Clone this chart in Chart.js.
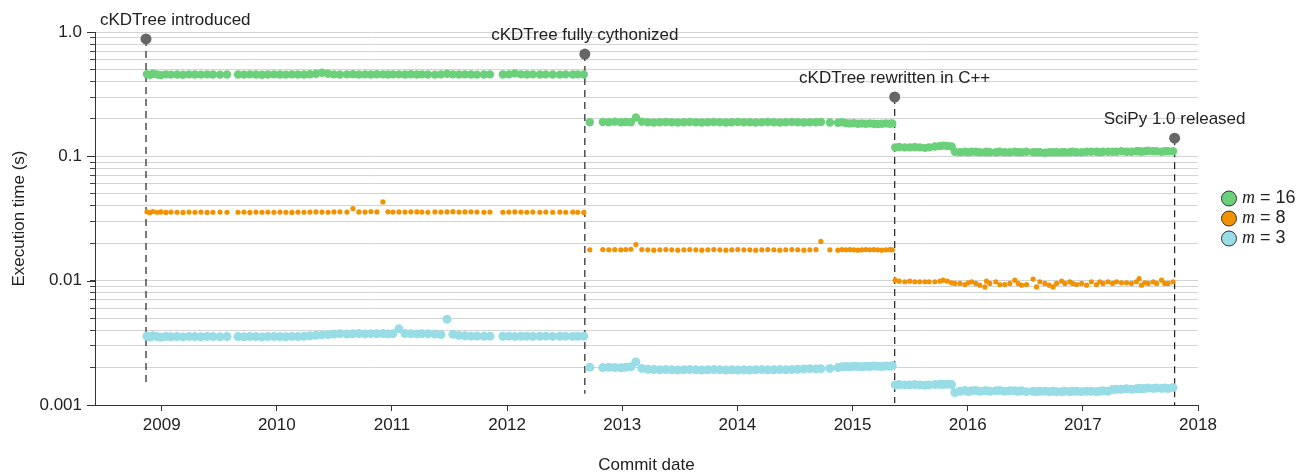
<!DOCTYPE html>
<html lang="en">
<head>
    <meta charset="UTF-8">
    <title>cKDTree benchmark history</title>
    <style>
        body { margin: 0; background: #fff; }
        #chart { display: block; }
    </style>
</head>
<body>
    <canvas id="chart" width="1298" height="473"></canvas>
    <script src="https://cdn.jsdelivr.net/npm/chart.js"></script>
    <script>
        // commit dates as decimal years
        const commitDates = [
            // before cythonization
            2008.872, 2008.898, 2008.924, 2008.960, 2008.994, 2009.037, 2009.080, 2009.133, 2009.185, 2009.237,
            2009.289, 2009.341, 2009.394, 2009.445, 2009.507, 2009.567, 2009.663, 2009.715, 2009.766, 2009.819,
            2009.871, 2009.922, 2009.975, 2010.027, 2010.079, 2010.131, 2010.183, 2010.236, 2010.288, 2010.340,
            2010.392, 2010.445, 2010.496, 2010.548, 2010.609, 2010.661, 2010.713, 2010.766, 2010.817, 2010.869,
            2010.921, 2010.965, 2011.008, 2011.060, 2011.113, 2011.164, 2011.216, 2011.260, 2011.312, 2011.373,
            2011.425, 2011.478, 2011.529, 2011.582, 2011.634, 2011.686, 2011.738, 2011.799, 2011.851, 2011.963,
            2012.015, 2012.067, 2012.120, 2012.171, 2012.223, 2012.284, 2012.336, 2012.396, 2012.458, 2012.509,
            2012.570, 2012.613, 2012.666,
            // cython
            2012.718, 2012.831, 2012.883, 2012.935, 2012.988, 2013.031, 2013.075, 2013.118, 2013.170, 2013.222,
            2013.274, 2013.326, 2013.379, 2013.430, 2013.482, 2013.535, 2013.586, 2013.639, 2013.691, 2013.743,
            2013.795, 2013.847, 2013.900, 2013.951, 2014.003, 2014.056, 2014.108, 2014.159, 2014.212, 2014.264,
            2014.317, 2014.368, 2014.420, 2014.473, 2014.524, 2014.577, 2014.629, 2014.682, 2014.725, 2014.803,
            2014.873, 2014.908, 2014.942, 2014.977, 2015.012, 2015.047, 2015.080, 2015.115, 2015.150, 2015.185,
            2015.219, 2015.254, 2015.289, 2015.324, 2015.345,
            // C++
            2015.370, 2015.405, 2015.454, 2015.497, 2015.541, 2015.584, 2015.628, 2015.665, 2015.715, 2015.759,
            2015.787, 2015.823, 2015.860, 2015.889, 2015.933, 2015.976, 2016.005, 2016.034, 2016.070, 2016.104,
            2016.149, 2016.163, 2016.192, 2016.244, 2016.279, 2016.322, 2016.366, 2016.409, 2016.438, 2016.468,
            2016.511, 2016.568, 2016.598, 2016.627, 2016.670, 2016.708, 2016.742, 2016.772, 2016.816, 2016.844,
            2016.887, 2016.911, 2016.946, 2016.989, 2017.032, 2017.074, 2017.118, 2017.147, 2017.175, 2017.218,
            2017.257, 2017.292, 2017.335, 2017.379, 2017.422, 2017.465, 2017.489, 2017.509, 2017.538, 2017.567,
            2017.610, 2017.640, 2017.683, 2017.711, 2017.740, 2017.783
        ];

        const m16Times = [
            0.458, 0.452, 0.462, 0.455, 0.450, 0.456, 0.454, 0.455, 0.453, 0.456,
            0.455, 0.454, 0.456, 0.455, 0.454, 0.455, 0.455, 0.454, 0.456, 0.455,
            0.453, 0.455, 0.456, 0.455, 0.454, 0.456, 0.455, 0.455, 0.457, 0.462,
            0.470, 0.462, 0.456, 0.455, 0.456, 0.458, 0.455, 0.456, 0.455, 0.457,
            0.456, 0.455, 0.456, 0.456, 0.455, 0.457, 0.455, 0.456, 0.455, 0.454,
            0.456, 0.462, 0.456, 0.455, 0.456, 0.455, 0.454, 0.455, 0.456, 0.455,
            0.456, 0.465, 0.456, 0.455, 0.456, 0.455, 0.456, 0.455, 0.454, 0.456,
            0.455, 0.456, 0.455,
            0.188, 0.189, 0.188, 0.190, 0.188, 0.189, 0.188, 0.205, 0.190, 0.188,
            0.187, 0.188, 0.189, 0.188, 0.187, 0.188, 0.189, 0.188, 0.187, 0.188,
            0.189, 0.188, 0.187, 0.188, 0.189, 0.188, 0.188, 0.187, 0.188, 0.189,
            0.188, 0.187, 0.188, 0.189, 0.188, 0.187, 0.188, 0.188, 0.189, 0.187,
            0.186, 0.188, 0.185, 0.184, 0.185, 0.183, 0.184, 0.183, 0.184, 0.183,
            0.182, 0.183, 0.184, 0.183, 0.184,
            0.118, 0.119, 0.118, 0.118, 0.119, 0.118, 0.117, 0.118, 0.120, 0.121,
            0.122, 0.121, 0.120, 0.109, 0.108, 0.109, 0.108, 0.109, 0.109, 0.108,
            0.108, 0.109, 0.108, 0.108, 0.109, 0.108, 0.108, 0.109, 0.108, 0.108,
            0.109, 0.108, 0.108, 0.108, 0.107, 0.108, 0.108, 0.108, 0.108, 0.108,
            0.108, 0.109, 0.108, 0.108, 0.109, 0.109, 0.109, 0.108, 0.109, 0.109,
            0.109, 0.109, 0.110, 0.109, 0.109, 0.110, 0.110, 0.109, 0.110, 0.111,
            0.110, 0.110, 0.109, 0.110, 0.110, 0.110
        ];

        const m8Times = [
            0.0358, 0.0352, 0.0360, 0.0355, 0.0357, 0.0354, 0.0356, 0.0355, 0.0354, 0.0356,
            0.0355, 0.0356, 0.0354, 0.0355, 0.0356, 0.0355, 0.0355, 0.0356, 0.0354, 0.0356,
            0.0355, 0.0356, 0.0355, 0.0356, 0.0355, 0.0354, 0.0356, 0.0355, 0.0356, 0.0357,
            0.0356, 0.0355, 0.0357, 0.0358, 0.0356, 0.0380, 0.0357, 0.0356, 0.0360, 0.0357,
            0.0430, 0.0358, 0.0356, 0.0357, 0.0356, 0.0358, 0.0357, 0.0356, 0.0355, 0.0357,
            0.0356, 0.0357, 0.0359, 0.0356, 0.0357, 0.0358, 0.0356, 0.0355, 0.0356, 0.0355,
            0.0356, 0.0357, 0.0356, 0.0355, 0.0356, 0.0355, 0.0356, 0.0355, 0.0356, 0.0355,
            0.0356, 0.0355, 0.0354,
            0.0177, 0.0178, 0.0177, 0.0178, 0.0177, 0.0178, 0.0179, 0.0195, 0.0178, 0.0177,
            0.0176, 0.0177, 0.0178, 0.0177, 0.0176, 0.0177, 0.0178, 0.0177, 0.0176, 0.0177,
            0.0178, 0.0177, 0.0176, 0.0177, 0.0178, 0.0177, 0.0177, 0.0176, 0.0177, 0.0178,
            0.0177, 0.0176, 0.0177, 0.0178, 0.0177, 0.0176, 0.0177, 0.0178, 0.0207, 0.0177,
            0.0176, 0.0178, 0.0177, 0.0178, 0.0177, 0.0176, 0.0177, 0.0178, 0.0177, 0.0178,
            0.0177, 0.0176, 0.0177, 0.0178, 0.0177,
            0.0101, 0.0099, 0.0098, 0.0099, 0.0098, 0.0098, 0.0098, 0.0098, 0.0098, 0.0099,
            0.0101, 0.0099, 0.0096, 0.0095, 0.0095, 0.0093, 0.0096, 0.0098, 0.0095, 0.0092,
            0.0089, 0.0099, 0.0095, 0.0098, 0.0093, 0.0093, 0.0095, 0.0101, 0.0095, 0.0092,
            0.0093, 0.0103, 0.0089, 0.0098, 0.0095, 0.0092, 0.0089, 0.0095, 0.0099, 0.0095,
            0.0098, 0.0095, 0.0093, 0.0095, 0.0092, 0.0098, 0.0093, 0.0098, 0.0095, 0.0098,
            0.0095, 0.0098, 0.0096, 0.0096, 0.0095, 0.0098, 0.0104, 0.0092, 0.0096, 0.0095,
            0.0098, 0.0095, 0.0101, 0.0095, 0.0095, 0.0098
        ];

        const m3Times = [
            0.00358, 0.00352, 0.00360, 0.00355, 0.00350, 0.00356, 0.00354, 0.00355, 0.00353, 0.00356,
            0.00355, 0.00354, 0.00356, 0.00355, 0.00354, 0.00355, 0.00355, 0.00354, 0.00356, 0.00355,
            0.00353, 0.00355, 0.00356, 0.00355, 0.00354, 0.00356, 0.00355, 0.00357, 0.00360, 0.00364,
            0.00366, 0.00368, 0.00372, 0.00375, 0.00372, 0.00374, 0.00376, 0.00373, 0.00375, 0.00374,
            0.00376, 0.00373, 0.00375, 0.00410, 0.00376, 0.00374, 0.00373, 0.00375, 0.00374, 0.00372,
            0.00368, 0.00490, 0.00370, 0.00363, 0.00360, 0.00358, 0.00359, 0.00357, 0.00358, 0.00357,
            0.00358, 0.00356, 0.00357, 0.00358, 0.00356, 0.00357, 0.00358, 0.00356, 0.00357, 0.00358,
            0.00356, 0.00357, 0.00358,
            0.00201, 0.00200, 0.00201, 0.00200, 0.00199, 0.00201, 0.00203, 0.00222, 0.00197, 0.00194,
            0.00193, 0.00192, 0.00193, 0.00192, 0.00191, 0.00192, 0.00193, 0.00192, 0.00191, 0.00192,
            0.00193, 0.00192, 0.00191, 0.00192, 0.00191, 0.00192, 0.00191, 0.00192, 0.00193, 0.00192,
            0.00192, 0.00193, 0.00192, 0.00193, 0.00194, 0.00195, 0.00196, 0.00195, 0.00196, 0.00197,
            0.00200, 0.00203, 0.00204, 0.00203, 0.00205, 0.00204, 0.00203, 0.00205, 0.00204, 0.00206,
            0.00205, 0.00204, 0.00206, 0.00205, 0.00207,
            0.00145, 0.00146, 0.00145, 0.00145, 0.00146, 0.00145, 0.00144, 0.00145, 0.00146, 0.00147,
            0.00146, 0.00147, 0.00146, 0.00126, 0.00129, 0.00131, 0.00128, 0.00130, 0.00131, 0.00129,
            0.00130, 0.00130, 0.00129, 0.00130, 0.00131, 0.00129, 0.00130, 0.00130, 0.00129, 0.00130,
            0.00128, 0.00129, 0.00128, 0.00129, 0.00129, 0.00128, 0.00129, 0.00128, 0.00128, 0.00129,
            0.00128, 0.00129, 0.00129, 0.00128, 0.00129, 0.00129, 0.00128, 0.00129, 0.00130, 0.00129,
            0.00133, 0.00134, 0.00134, 0.00135, 0.00134, 0.00135, 0.00136, 0.00135, 0.00136, 0.00137,
            0.00136, 0.00137, 0.00136, 0.00137, 0.00136, 0.00138
        ];

        const seriesM = [16, 8, 3];
        const seriesColors = ['#6bd07a', '#f39200', '#98dce6'];

        const eventLabels = ['cKDTree introduced', 'cKDTree fully cythonized', 'cKDTree rewritten in C++', 'SciPy 1.0 released'];
        const eventDates = [2008.864, 2012.675, 2015.366, 2017.797];
        const eventTops = [0.88, 0.665, 0.30, 0.14];
        const eventBottoms = [0.00149, 0.00123, 0.00104, 0.001];

        const xTickYears = [2009, 2010, 2011, 2012, 2013, 2014, 2015, 2016, 2017, 2018];
        const yTickValues = [
            0.001, 0.002, 0.003, 0.004, 0.005, 0.006, 0.007, 0.008, 0.009,
            0.01, 0.02, 0.03, 0.04, 0.05, 0.06, 0.07, 0.08, 0.09,
            0.1, 0.2, 0.3, 0.4, 0.5, 0.6, 0.7, 0.8, 0.9, 1
        ];
        const yMajorTicks = [0.001, 0.01, 0.1, 1];
        const yMajorLabels = ['0.001', '0.01', '0.1', '1.0'];

        const pointSizes = [4.2, 2.6, 4.5];

        function seriesPoints(values) {
            return commitDates.map((d, i) => ({ x: d, y: values[i] }));
        }

        const seriesData = [m16Times, m8Times, m3Times];
        const datasets = seriesData.map((vals, i) => ({
            label: 'm = ' + seriesM[i],
            data: seriesPoints(vals),
            backgroundColor: seriesColors[i],
            borderWidth: 0,
            pointRadius: pointSizes[i],
            pointHoverRadius: pointSizes[i],
            order: 1
        }));

        eventDates.forEach((d, i) => {
            datasets.push({
                label: eventLabels[i],
                data: [{ x: d, y: eventTops[i] }, { x: d, y: eventBottoms[i] }],
                showLine: true,
                borderColor: '#222',
                borderWidth: 1.2,
                borderDash: [7, 5],
                pointRadius: [5.5, 0],
                pointBackgroundColor: '#666',
                pointBorderWidth: 0,
                order: 10
            });
        });

        // event labels, longer major y ticks, and the legend on the right
        const overlay = {
            id: 'overlay',
            afterDatasetsDraw(chart) {
                const { ctx, chartArea, scales: { x, y } } = chart;
                ctx.save();

                ctx.strokeStyle = '#333';
                ctx.lineWidth = 1;
                yMajorTicks.forEach(v => {
                    const py = Math.round(y.getPixelForValue(v)) + 0.5;
                    ctx.beginPath();
                    ctx.moveTo(chartArea.left - 8, py);
                    ctx.lineTo(chartArea.left, py);
                    ctx.stroke();
                });

                ctx.textBaseline = 'middle';
                ctx.textAlign = 'left';
                ctx.fillStyle = '#222';
                ctx.font = '17px "Liberation Sans", Arial, sans-serif';
                eventLabels.forEach((label, i) => {
                    const px = x.getPixelForValue(eventDates[i]);
                    const py = y.getPixelForValue(eventTops[i]);
                    const w = ctx.measureText(label).width;
                    const left = Math.max(px - w / 2, chartArea.left + 5);
                    ctx.fillText(label, left, py - 19);
                });

                const lx = chartArea.right + 31;
                const midY = (chartArea.top + chartArea.bottom) / 2;
                seriesM.forEach((m, i) => {
                    const ly = midY + (i - 1) * 20;
                    ctx.beginPath();
                    ctx.arc(lx, ly, 7.5, 0, Math.PI * 2);
                    ctx.fillStyle = seriesColors[i];
                    ctx.fill();
                    ctx.lineWidth = 1;
                    ctx.strokeStyle = '#333';
                    ctx.stroke();
                    ctx.fillStyle = '#222';
                    ctx.font = 'italic 18px "Liberation Serif", "DejaVu Serif", serif';
                    ctx.fillText('m', lx + 13, ly);
                    const mw = ctx.measureText('m').width;
                    ctx.font = '18px "Liberation Sans", Arial, sans-serif';
                    ctx.fillText(' = ' + m, lx + 13 + mw, ly);
                });
                ctx.restore();
            }
        };

        Chart.defaults.font.family = '"Liberation Sans", Arial, sans-serif';
        Chart.defaults.color = '#222';

        new Chart(document.getElementById('chart'), {
            type: 'scatter',
            data: { datasets },
            plugins: [overlay],
            options: {
                responsive: false,
                animation: false,
                layout: { padding: { left: 0, top: 32, right: 100, bottom: 0 } },
                plugins: {
                    legend: { display: false },
                    tooltip: { enabled: false }
                },
                scales: {
                    x: {
                        type: 'linear',
                        min: 2008.421,
                        max: 2018.0,
                        afterBuildTicks(scale) {
                            scale.ticks = xTickYears.map(v => ({ value: v }));
                        },
                        afterFit(scale) { scale.height = 68; },
                        ticks: {
                            autoSkip: false,
                            maxRotation: 0,
                            padding: 4,
                            font: { size: 17 },
                            callback: v => String(v)
                        },
                        grid: {
                            drawOnChartArea: false,
                            tickLength: 6,
                            tickColor: '#333'
                        },
                        border: { color: '#333', width: 1 },
                        title: {
                            display: true,
                            text: 'Commit date',
                            font: { size: 17, lineHeight: 1 },
                            padding: { top: 0, bottom: -1 }
                        }
                    },
                    y: {
                        type: 'logarithmic',
                        min: 0.001,
                        max: 1,
                        afterBuildTicks(scale) {
                            scale.ticks = yTickValues.map(v => ({ value: v }));
                        },
                        afterFit(scale) { scale.width = 95; },
                        ticks: {
                            autoSkip: false,
                            padding: 8,
                            font: { size: 17 },
                            callback: v => {
                                const k = yMajorTicks.findIndex(t => Math.abs(t - v) < t * 1e-6);
                                return k >= 0 ? yMajorLabels[k] : '';
                            }
                        },
                        grid: {
                            color: '#d4d4d4',
                            lineWidth: 1,
                            tickLength: 5,
                            tickColor: '#444'
                        },
                        border: { color: '#333', width: 1 },
                        title: {
                            display: true,
                            text: 'Execution time (s)',
                            font: { size: 17 },
                            padding: { top: 9, bottom: 0 }
                        }
                    }
                }
            }
        });
    </script>
</body>
</html>
